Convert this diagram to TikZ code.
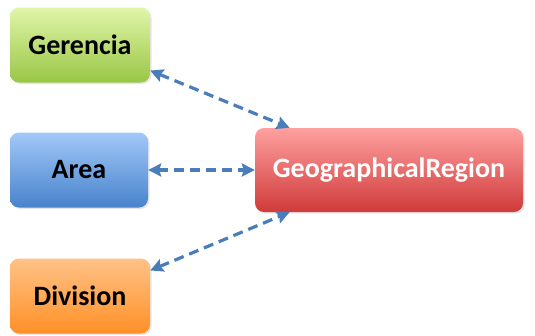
\documentclass[tikz,border=0pt]{standalone}
\usepackage{fontspec}
\setmainfont{Carlito}
\usetikzlibrary{arrows.meta,shadows}
\definecolor{linkblue}{HTML}{4A7EBB}
\definecolor{greentop}{HTML}{E0F5A8}
\definecolor{greenbot}{HTML}{9AC646}
\definecolor{bluetop}{HTML}{A2C8F8}
\definecolor{bluebot}{HTML}{4883CC}
\definecolor{orangetop}{HTML}{FFC286}
\definecolor{orangebot}{HTML}{FF9028}
\definecolor{redtop}{HTML}{FFA0A0}
\definecolor{redbot}{HTML}{D03A3A}
\tikzstyle{box} = [rounded corners=9pt, minimum height=75pt, font={\fontsize{28}{32}\selectfont\bfseries}, drop shadow={opacity=0.2, shadow xshift=1.5pt, shadow yshift=-1.5pt}]
\tikzstyle{green} = [box, minimum width=140pt, top color=greentop, bottom color=greenbot]
\tikzstyle{blue} = [box, minimum width=138pt, top color=bluetop, bottom color=bluebot]
\tikzstyle{orange} = [box, minimum width=140pt, top color=orangetop, bottom color=orangebot]
\tikzstyle{red} = [box, minimum width=268pt, minimum height=84pt, top color=redtop, bottom color=redbot, text=white]
\tikzstyle{link} = [draw=linkblue, line width=3.2pt, dash pattern=on 10pt off 6pt, {Stealth[length=13pt,width=13pt,inset=2pt]}-{Stealth[length=13pt,width=13pt,inset=2pt]}]

\begin{document}
\begin{tikzpicture}[x=1pt,y=-1pt]
        \useasboundingbox (0,0) rectangle (535,335);
        \node[green](ger) at (80,45){Gerencia};
        \node[blue](area) at (79,170){Area};
        \node[orange](div) at (80,296){Division};
        \node[red](geo) at (389,170){GeographicalRegion};
        \draw[link](ger.-20)--(geo.157);
        \draw[link](area.east)--(geo.west);
        \draw[link](div.20)--(geo.203);
      \end{tikzpicture}
\end{document}
